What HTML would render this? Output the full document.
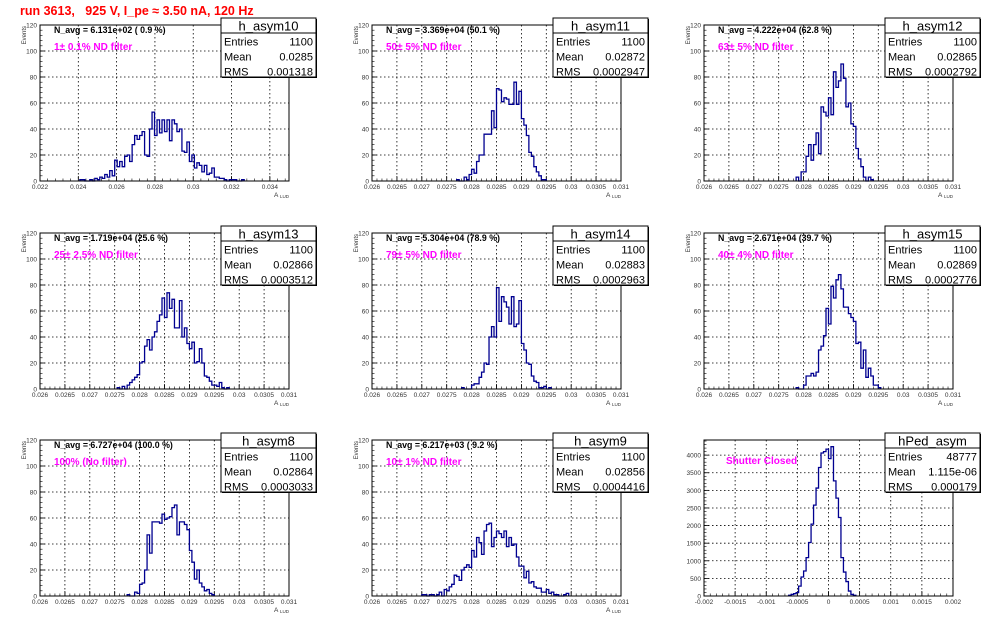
<!DOCTYPE html>
<html><head><meta charset="utf-8"><style>
body{margin:0;background:#fff;width:996px;height:622px;overflow:hidden}
svg text{font-family:"Liberation Sans",sans-serif;white-space:pre}
</style></head><body>
<svg id="c" width="996" height="622" xmlns="http://www.w3.org/2000/svg">
<text x="20" y="15" font-size="12.5" font-weight="bold" fill="#ff0000" xml:space="preserve">run 3613,   925 V, I_pe ≈ 3.50 nA, 120 Hz</text>
</svg>
<script>
// --- data arrays (bin counts, first non-listed bins are zero) ---
const asym10Start = 16;
const asym10Counts = [1,1,0,0,1,0,2,1,3,2,5,3,8,4,16,11,15,11,19,20,15,28,35,32,35,38,20,19,40,53,35,47,37,47,38,47,31,47,44,38,40,23,22,30,15,20,10,14,12,7,12,5,6,10,3,3,2,2,1,0,1,1,1,0,0,1];
const asym11Start = 34;
const asym11Counts = [1,0,0,3,1,5,9,6,15,20,20,36,36,36,54,41,71,70,61,64,63,59,59,76,59,69,48,43,35,22,19,11,7,4,1,1];
const asym12Start = 37;
const asym12Counts = [3,0,7,7,19,28,16,28,37,21,57,53,50,64,51,84,72,77,90,79,57,60,44,42,25,17,11,3,0,3,1];
const asym13Start = 31;
const asym13Counts = [1,0,2,0,3,5,7,9,11,20,21,33,38,30,40,44,52,57,70,55,74,62,69,47,47,68,40,47,35,31,36,20,21,31,20,10,9,6,3,3,2,5,1,0,1];
const asym14Start = 36;
const asym14Counts = [1,0,0,0,3,4,4,9,13,20,19,40,48,40,78,52,71,67,63,50,71,48,50,68,35,30,20,19,10,6,5,1,1,2,0,1];
const asym15Start = 37;
const asym15Counts = [1,0,0,3,10,10,12,10,13,30,33,41,62,50,79,70,84,88,77,63,63,58,55,52,35,36,16,30,9,16,10,3,3,1];
const asym8Start = 35;
const asym8Counts = [1,0,0,3,2,9,10,20,47,33,57,57,57,56,63,59,60,61,68,70,47,57,57,55,51,35,26,13,20,10,7,4,5,2,1];
const asym9Start = 20;
const asym9Counts = [1,1,0,1,1,0,1,3,0,5,4,7,9,16,15,12,20,22,24,22,35,30,45,41,32,50,55,56,38,45,50,48,45,50,38,45,39,40,30,23,23,14,19,10,11,7,6,6,3,3,5,2,3,1,1,0,0,1,2];
const pedStart = 34;
const pedCounts = [20,45,65,95,280,540,710,1090,1520,2040,2580,3065,3650,4060,4100,4170,3900,4240,3270,2780,2230,1090,680,410,140,45,20];
// tick labels
const asymTicksA = ["0.022","0.024","0.026","0.028","0.03","0.032","0.034"];
const asymTicksB = ["0.026","0.0265","0.027","0.0275","0.028","0.0285","0.029","0.0295","0.03","0.0305","0.031"];
const pedTicksX = ["-0.002","-0.0015","-0.001","-0.0005","0","0.0005","0.001","0.0015","0.002"];
const eventTicks = ["0","20","40","60","80","100","120"];
const pedTicksY = ["0","500","1000","1500","2000","2500","3000","3500","4000"];

const NS="http://www.w3.org/2000/svg";
const svg=document.getElementById('c');
function mk(tag,attrs,parent){const e=document.createElementNS(NS,tag);for(const k in attrs)e.setAttribute(k,attrs[k]);(parent||svg).appendChild(e);return e;}

const panels=[
 {name:'h_asym10',start:asym10Start,counts:asym10Counts,xmin:0.022,xmax:0.035,ymax:120,xt:asymTicksA,yt:eventTicks,navg:'N_avg = 6.131e+02 ( 0.9 %)',lab:'1\u00b1 0.1% ND filter',stats:['1100','0.0285','0.001318']},
 {name:'h_asym11',start:asym11Start,counts:asym11Counts,xmin:0.026,xmax:0.031,ymax:120,xt:asymTicksB,yt:eventTicks,navg:'N_avg = 3.369e+04 (50.1 %)',lab:'50\u00b1 5% ND filter',stats:['1100','0.02872','0.0002947']},
 {name:'h_asym12',start:asym12Start,counts:asym12Counts,xmin:0.026,xmax:0.031,ymax:120,xt:asymTicksB,yt:eventTicks,navg:'N_avg = 4.222e+04 (62.8 %)',lab:'63\u00b1 5% ND filter',stats:['1100','0.02865','0.0002792']},
 {name:'h_asym13',start:asym13Start,counts:asym13Counts,xmin:0.026,xmax:0.031,ymax:120,xt:asymTicksB,yt:eventTicks,navg:'N_avg = 1.719e+04 (25.6 %)',lab:'25\u00b1 2.5% ND filter',stats:['1100','0.02866','0.0003512']},
 {name:'h_asym14',start:asym14Start,counts:asym14Counts,xmin:0.026,xmax:0.031,ymax:120,xt:asymTicksB,yt:eventTicks,navg:'N_avg = 5.304e+04 (78.9 %)',lab:'79\u00b1 5% ND filter',stats:['1100','0.02883','0.0002963']},
 {name:'h_asym15',start:asym15Start,counts:asym15Counts,xmin:0.026,xmax:0.031,ymax:120,xt:asymTicksB,yt:eventTicks,navg:'N_avg = 2.671e+04 (39.7 %)',lab:'40\u00b1 4% ND filter',stats:['1100','0.02869','0.0002776']},
 {name:'h_asym8',start:asym8Start,counts:asym8Counts,xmin:0.026,xmax:0.031,ymax:120,xt:asymTicksB,yt:eventTicks,navg:'N_avg = 6.727e+04 (100.0 %)',lab:'100% (No filter)',stats:['1100','0.02864','0.0003033']},
 {name:'h_asym9',start:asym9Start,counts:asym9Counts,xmin:0.026,xmax:0.031,ymax:120,xt:asymTicksB,yt:eventTicks,navg:'N_avg = 6.217e+03 ( 9.2 %)',lab:'10\u00b1 1% ND filter',stats:['1100','0.02856','0.0004416']},
 {name:'hPed_asym',start:pedStart,counts:pedCounts,xmin:-0.002,xmax:0.002,ymax:4430,xt:pedTicksX,yt:pedTicksY,navg:null,lab:'Shutter Closed',stats:['48777','1.115e-06','0.000179'],ped:true}
];
const NB=100, W=249, H=156;

panels.forEach((p,i)=>{
 const col=i%3,row=Math.floor(i/3);
 const L=40+col*332, T=25+Math.round(row*207.5), B=T+H, R=L+W;
 const g=mk('g',{});
 
 
 const xs=v=>L+(v-p.xmin)/(p.xmax-p.xmin)*W;
 const ys=v=>B-v/p.ymax*H;
 // x ticks & grid
 p.xt.forEach(t=>{const x=xs(parseFloat(t));
  if(x>L+0.5&&x<R-0.5) mk('line',{x1:x,y1:T,x2:x,y2:B,stroke:'#000','stroke-width':0.8,'stroke-dasharray':'1.5,2.5'},g);
  mk('line',{x1:x,y1:B,x2:x,y2:B-5,stroke:'#000','stroke-width':0.8},g);
  const tx=mk('text',{x:x,y:B+8,'font-size':6.5,'text-anchor':'middle',fill:'#333'},g);tx.textContent=t;
  
  
 });
 const step=(parseFloat(p.xt[1])-parseFloat(p.xt[0]))/5;
 for(let v=parseFloat(p.xt[0]);v<=p.xmax+1e-12;v+=step){const x=xs(v);if(x>=L&&x<=R)mk('line',{x1:x,y1:B,x2:x,y2:B-2.5,stroke:'#000','stroke-width':0.6},g);}
 // y ticks & grid
 p.yt.forEach(t=>{const y=ys(parseFloat(t));
  if(y>T+0.5&&y<B-0.5) mk('line',{x1:L,y1:y,x2:R,y2:y,stroke:'#000','stroke-width':0.8,'stroke-dasharray':'1.5,2.5'},g);
  mk('line',{x1:L,y1:y,x2:L+5,y2:y,stroke:'#000','stroke-width':0.8},g);
  const ty=mk('text',{x:L-3,y:y+2.5,'font-size':6.5,'text-anchor':'end',fill:'#333'},g);ty.textContent=t;
  
  
 });
 const ystep=(parseFloat(p.yt[1])-parseFloat(p.yt[0]))/5;
 for(let v=0;v<=p.ymax;v+=ystep){const y=ys(v);mk('line',{x1:L,y1:y,x2:L+2.5,y2:y,stroke:'#000','stroke-width':0.6},g);}
 // histogram (only over the filled bin range)
 const bw=(p.xmax-p.xmin)/NB;
 let d='M'+xs(p.xmin+p.start*bw).toFixed(2)+','+B;
 for(let b=p.start;b<p.start+p.counts.length;b++){const c=p.counts[b-p.start];
  d+=' V'+ys(c).toFixed(2)+' H'+xs(p.xmin+(b+1)*bw).toFixed(2);}
 d+=' V'+B;
 const h=mk('path',{d:d,fill:'none',stroke:'#000090','stroke-width':1.3},g);
 
 
 mk('rect',{x:L,y:T,width:W,height:H,fill:'none',stroke:'#000','stroke-width':1},g);
 if(!p.ped){
  const ev=mk('text',{x:0,y:0,'font-size':6,fill:'#333','text-anchor':'end',transform:'translate('+(L-14)+','+(T+1)+') rotate(-90)'},g);ev.textContent='Events';
  
  
  const ax=mk('text',{x:R-15,y:B+16,'font-size':6.5,fill:'#333'},g);ax.textContent='A';
  
  
  const sub=mk('text',{x:R-9,y:B+17,'font-size':4.5,fill:'#333'},g);sub.textContent='LUD';
  
  
  const na=mk('text',{x:L+14,y:T+8,'font-size':8.8,'font-weight':'bold',fill:'#000'},g);na.textContent=p.navg;
  
  
 }
 const lb=mk('text',{x:L+(p.ped?22:14),y:T+(p.ped?24:25),'font-size':10,'font-weight':'bold',fill:'#ff00ff'},g);lb.textContent=p.lab;
 
 
 // stat box
 const sx=L+181, sy=T-7, sw=95, sh=59;
 const sb=mk('g',{},g);
 
 
 mk('rect',{x:sx+1,y:sy+1,width:sw,height:sh,fill:'#000'},sb);
 mk('rect',{x:sx,y:sy,width:sw,height:sh,fill:'#fff',stroke:'#000','stroke-width':1},sb);
 mk('line',{x1:sx,y1:sy+15,x2:sx+sw,y2:sy+15,stroke:'#000','stroke-width':1},sb);
 const tt=mk('text',{x:sx+sw/2,y:sy+12.5,'font-size':13,'text-anchor':'middle',fill:'#000'},sb);tt.textContent=p.name;
 
 
 ['Entries','Mean','RMS'].forEach((k,j)=>{const y=sy+27.5+j*15;
  const a=mk('text',{x:sx+3,y:y,'font-size':11,fill:'#000'},sb);a.textContent=k;
  
  
  const v=mk('text',{x:sx+sw-3,y:y,'font-size':11,'text-anchor':'end',fill:'#000'},sb);v.textContent=p.stats[j];
  
  
 });
});
</script>
</body></html>
